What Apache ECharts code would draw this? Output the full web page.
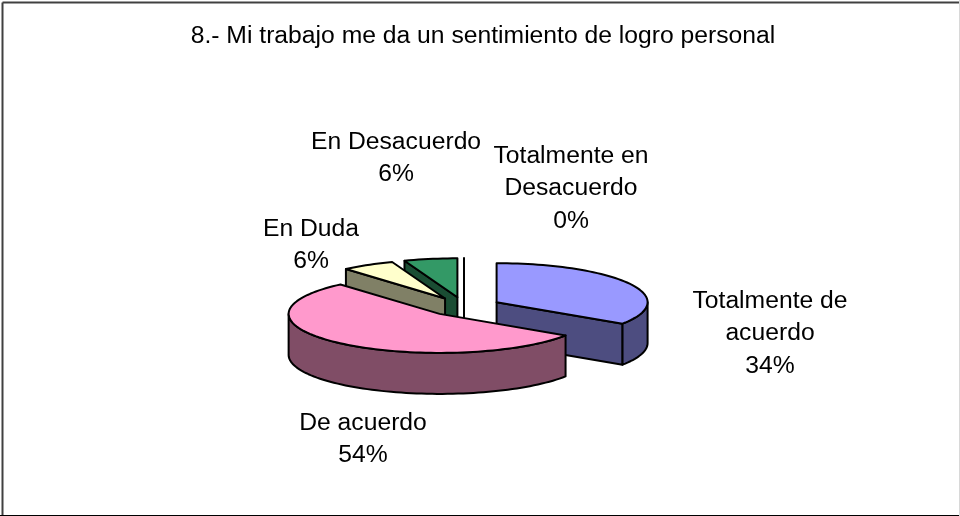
<!DOCTYPE html>
<html>
<head>
<meta charset="utf-8">
<style>
  html, body { margin: 0; padding: 0; background: #fff; }
  #pie3d { width: 960px; height: 516px; }
</style>
<script src="https://cdn.jsdelivr.net/npm/echarts@6/dist/echarts.min.js"></script>
</head>
<body>
<div id="pie3d"></div>
<script>
var categories = ['Totalmente de acuerdo', 'De acuerdo', 'En Duda', 'En Desacuerdo', 'Totalmente en Desacuerdo'];
var labelLines = ['Totalmente de\nacuerdo', 'De acuerdo', 'En Duda', 'En Desacuerdo', 'Totalmente en\nDesacuerdo'];
var values = [34.3, 54.3, 5.7, 5.7, 0];
var topColors = ['#9999FF', '#FF99CC', '#FFFFCC', '#339966', '#FFFFFF'];
var sideColors = ['#4D4D80', '#804D66', '#808066', '#1A4D33', '#808080'];

// back to front, the pink slice sits over everything else
var drawOrder = [3, 4, 2, 1, 0];
// centre of each label block
var labelAt = [[770, 333.5], [363, 439], [311, 245], [396, 158], [571, 188.5]];

var PIE_X = 464, PIE_Y = 306.7;
var RX = 151, RY = 39, DEPTH = 41, EXPLODE = 37;
var DEG = Math.PI / 180;

var total = values.reduce(function (a, b) { return a + b; }, 0);
var starts = [];
values.reduce(function (sum, v, i) {
  starts[i] = sum / total * 360;
  return sum + v;
}, 0);

function edge(cx, cy, a) {
  return [cx + RX * Math.sin(a * DEG), cy - RY * Math.cos(a * DEG)];
}

function arc(cx, cy, a0, a1) {
  var pts = [];
  var n = Math.max(1, Math.ceil((a1 - a0) / 2));
  for (var i = 0; i <= n; i++) {
    pts.push(edge(cx, cy, a0 + (a1 - a0) * i / n));
  }
  return pts;
}

function dropped(pts) {
  return pts.map(function (p) { return [p[0], p[1] + DEPTH]; }).reverse();
}

function renderSlice(params, api) {
  var i = params.dataIndex;
  var v = api.value(0);
  var a0 = starts[i];
  var a1 = a0 + v / total * 360;
  var mid = (a0 + a1) / 2 * DEG;
  var cx = PIE_X + EXPLODE * Math.sin(mid);
  var cy = PIE_Y - EXPLODE * RY / RX * Math.cos(mid);
  var base = drawOrder[i] * 10;

  function poly(points, fill, z) {
    return {
      type: 'polygon',
      z2: base + z,
      shape: { points: points },
      style: { fill: fill, stroke: '#000', lineWidth: 2, lineJoin: 'round' }
    };
  }

  var kids = [];
  var side = sideColors[i];

  // cut faces, only the ones turned towards the viewer
  if (v === 0 || Math.sin(a1 * DEG) > 0.001) {
    var e1 = [[cx, cy], edge(cx, cy, a1)];
    kids.push(poly(e1.concat(dropped(e1)), side, 1));
  }
  if (Math.sin(a0 * DEG) < -0.001) {
    var e0 = [[cx, cy], edge(cx, cy, a0)];
    kids.push(poly(e0.concat(dropped(e0)), side, 2));
  }

  // rim, front half only
  var f0 = Math.max(a0, 90), f1 = Math.min(a1, 270);
  if (f1 > f0) {
    var rim = arc(cx, cy, f0, f1);
    kids.push(poly(rim.concat(dropped(rim)), side, 3));
  }

  kids.push(poly([[cx, cy]].concat(arc(cx, cy, a0, a1)), topColors[i], 4));

  kids.push({
    type: 'text',
    z2: 100,
    style: {
      x: labelAt[i][0],
      y: labelAt[i][1],
      text: labelLines[i] + '\n' + Math.round(v / total * 100) + '%',
      fill: '#000',
      font: '24.7px "Liberation Sans", Arial, sans-serif',
      lineHeight: 32.5,
      align: 'center',
      verticalAlign: 'middle'
    }
  });

  return { type: 'group', children: kids };
}

var box = echarts.init(document.getElementById('pie3d'));
var option = {
  animation: false,
  backgroundColor: '#fff',
  title: {
    text: '8.- Mi trabajo me da un sentimiento de logro personal',
    left: 478,
    textAlign: 'center',
    top: 19,
    textStyle: {
      fontFamily: '"Liberation Sans", Arial, sans-serif',
      fontSize: 24.7,
      fontWeight: 'normal',
      color: '#000'
    }
  },
  graphic: [
    { type: 'line', shape: { x1: 2.5, y1: 2.5, x2: 960, y2: 2.5 }, style: { stroke: '#404040', lineWidth: 2 } },
    { type: 'line', shape: { x1: 2.5, y1: 2.5, x2: 2.5, y2: 516 }, style: { stroke: '#404040', lineWidth: 2 } },
    { type: 'line', shape: { x1: 0, y1: 515.5, x2: 960, y2: 515.5 }, style: { stroke: '#000', lineWidth: 1 } },
    { type: 'line', shape: { x1: 959.5, y1: 0, x2: 959.5, y2: 516 }, style: { stroke: '#d8d8d8', lineWidth: 1 } }
  ],
  series: [
    {
      type: 'custom',
      coordinateSystem: 'none',
      silent: true,
      renderItem: renderSlice,
      data: values.map(function (v, i) { return { name: categories[i], value: [v] }; })
    }
  ]
};
box.setOption(option);
</script>
</body>
</html>
